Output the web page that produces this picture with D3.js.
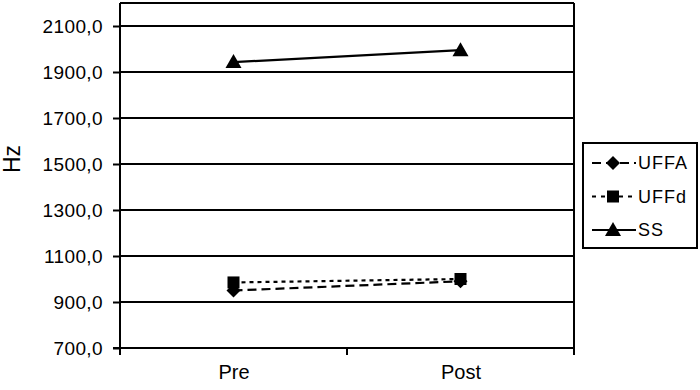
<!DOCTYPE html>
<html><head><meta charset="utf-8">
<script src="https://cdn.jsdelivr.net/npm/d3@7"></script>
<style>body{margin:0;background:#fff}svg{display:block}text{font-family:"Liberation Sans",Arial,sans-serif;fill:#000}</style>
</head><body><svg id="c" width="700" height="390"></svg>
<script>
const categories = ["Pre", "Post"];
const seriesNames = ["UFFA", "UFFd", "SS"];
const UFFA = [950, 990];
const UFFd = [985, 1000];
const SS = [1943, 1995];
const yTicks = [700, 900, 1100, 1300, 1500, 1700, 1900, 2100];
const yLabel = "Hz";

const series = [
  {name: seriesNames[0], values: UFFA, dash: "9,5", marker: "diamond"},
  {name: seriesNames[1], values: UFFd, dash: "4,4", marker: "square"},
  {name: seriesNames[2], values: SS, dash: null, marker: "triangle"}
];

const svg = d3.select("#c");
const L = 120, R = 574, T = 3, B = 348;
const x = d3.scalePoint().domain(categories).range([L, R]).padding(0.5);
const y = d3.scaleLinear().domain([700, 2200]).range([B, T]);

svg.append("g").selectAll("line").data(yTicks.slice(1)).join("line")
  .attr("x1", L).attr("x2", R).attr("y1", d => y(d)).attr("y2", d => y(d))
  .attr("stroke", "#000").attr("stroke-width", 2);
svg.append("line").attr("x1", L).attr("x2", R).attr("y1", T).attr("y2", T).attr("stroke", "#000").attr("stroke-width", 2);
svg.append("line").attr("x1", R).attr("x2", R).attr("y1", T).attr("y2", B).attr("stroke", "#000").attr("stroke-width", 2);

const yAxis = d3.axisLeft(y).tickValues(yTicks).tickSize(7).tickPadding(10)
  .tickFormat(d => d3.format(".1f")(d).replace(".", ","));
const gy = svg.append("g").attr("transform", `translate(${L},0)`).call(yAxis);
gy.select(".domain").attr("stroke-width", 2).attr("d", `M-7,${B}H0V${T}`);
gy.selectAll(".tick line").attr("stroke-width", 2);
gy.selectAll(".tick text").attr("font-size", 19).style("letter-spacing", "0.4px")
  .attr("font-family", "Liberation Sans, Arial, sans-serif").attr("dy", "0.36em");

const xAxis = d3.axisBottom(x).tickSize(0).tickPadding(17);
const gx = svg.append("g").attr("transform", `translate(0,${B})`).call(xAxis);
gx.select(".domain").attr("stroke-width", 2).attr("d", `M${L},0H${R}`);
gx.selectAll(".tick text").attr("font-size", 20).attr("font-family", "Liberation Sans, Arial, sans-serif");
const mid = (x(categories[0]) + x(categories[1])) / 2;
[L, mid, R].forEach(v => svg.append("line").attr("x1", v).attr("x2", v).attr("y1", B).attr("y2", B + 7).attr("stroke", "#000").attr("stroke-width", 2));

svg.append("text").attr("transform", `translate(20,159) rotate(-90)`).attr("text-anchor", "middle")
  .attr("font-size", 23).text(yLabel);

function marker(g, type, cx, cy) {
  if (type === "diamond") {
    const s = 7;
    g.append("path").attr("d", `M${cx},${cy - s}L${cx + s},${cy}L${cx},${cy + s}L${cx - s},${cy}Z`).attr("fill", "#000");
  } else if (type === "square") {
    g.append("rect").attr("x", cx - 6).attr("y", cy - 6).attr("width", 12).attr("height", 12).attr("fill", "#000");
  } else {
    g.append("path").attr("d", `M${cx},${cy - 8}L${cx + 8},${cy + 6}L${cx - 8},${cy + 6}Z`).attr("fill", "#000");
  }
}

const line = d3.line().x((d, i) => x(categories[i])).y(d => y(d));
const plot = svg.append("g");
series.forEach(s => {
  plot.append("path").attr("d", line(s.values)).attr("fill", "none").attr("stroke", "#000")
    .attr("stroke-width", 2.2).attr("stroke-dasharray", s.dash);
});
series.forEach(s => {
  s.values.forEach((v, i) => marker(plot, s.marker, x(categories[i]), y(v)));
});

const lg = svg.append("g");
lg.append("rect").attr("x", 583).attr("y", 143).attr("width", 114).attr("height", 105)
  .attr("fill", "#fff").attr("stroke", "#000").attr("stroke-width", 2);
series.forEach((s, i) => {
  const cy = 163 + i * 33.5;
  lg.append("line").attr("x1", 592).attr("x2", 636).attr("y1", cy).attr("y2", cy)
    .attr("stroke", "#000").attr("stroke-width", 2.2).attr("stroke-dasharray", s.dash ? (i === 0 ? "9,5" : "4,5") : null);
  marker(lg, s.marker, 613, cy);
  lg.append("text").attr("x", 638).attr("y", cy).attr("dy", "0.36em").attr("font-size", 18)
    .style("letter-spacing", "1px").text(s.name);
});
</script></body></html>
